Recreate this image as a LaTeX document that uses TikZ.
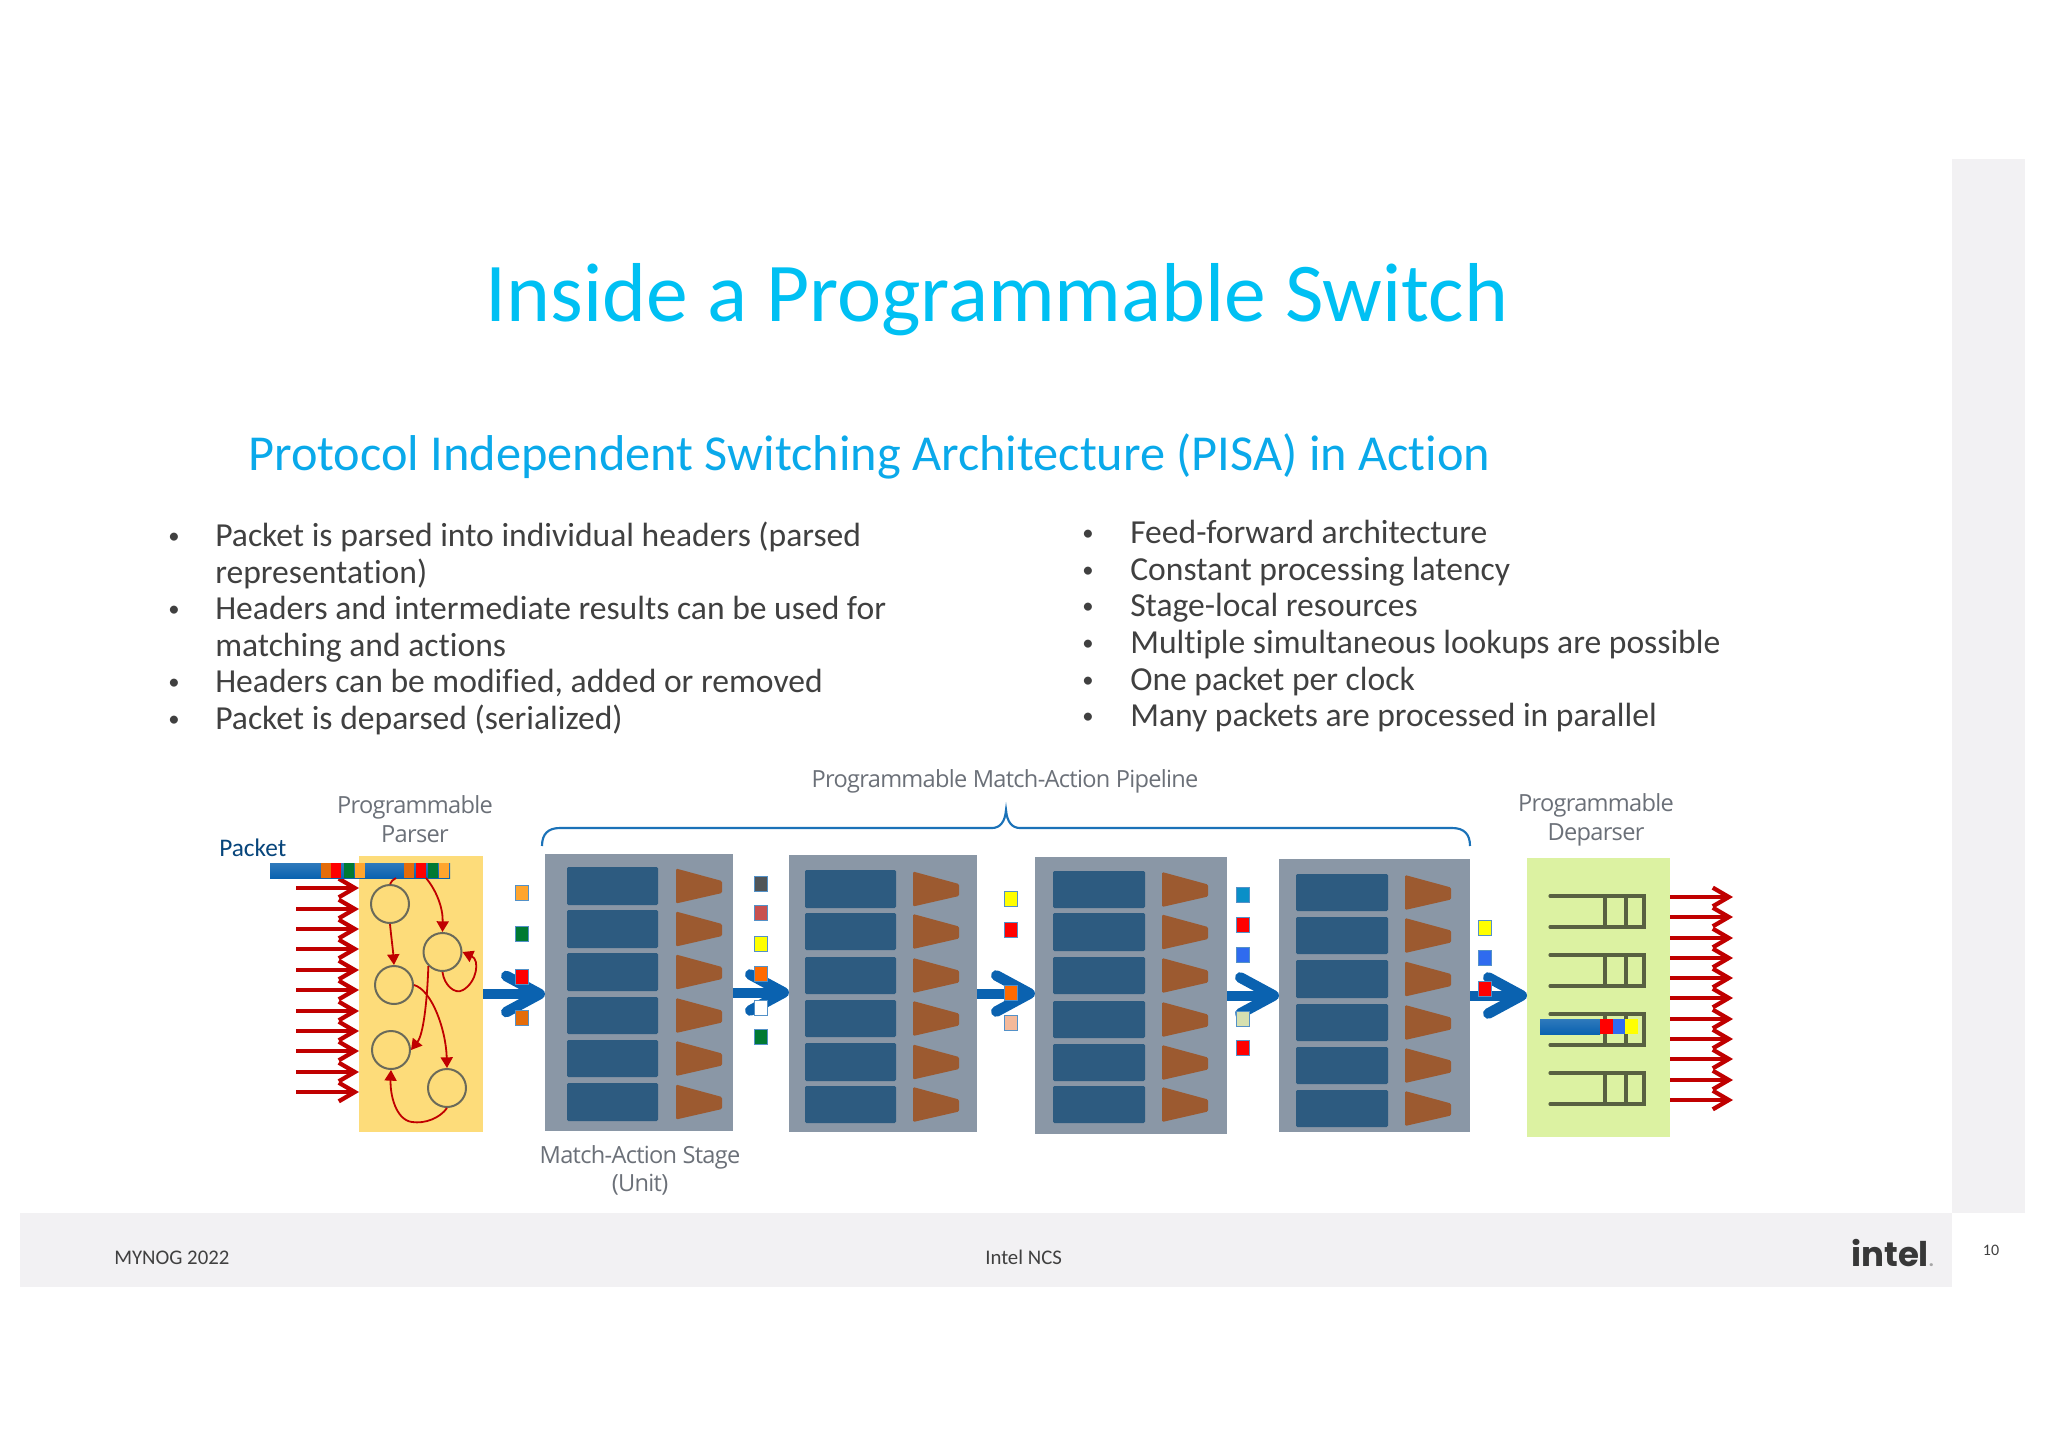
\documentclass[tikz,border=0pt]{standalone}
\usepackage{fontspec}
\setmainfont{Carlito}[Ligatures=NoCommon]
\newfontfamily\diagfont{Open Sans}[LetterSpace=-3]
\newfontfamily\logofont{Poppins}
\usetikzlibrary{arrows.meta}
\definecolor{titlec}{HTML}{00C0F3}
\definecolor{subc}{HTML}{0AA9EA}
\definecolor{bodyc}{HTML}{404040}
\definecolor{barc}{HTML}{F2F1F3}
\definecolor{parsec}{HTML}{FDDC7A}
\definecolor{deparsec}{HTML}{DCF2A2}
\definecolor{stagec}{HTML}{8A97A6}
\definecolor{blockc}{HTML}{2D5B80}
\definecolor{trapc}{HTML}{9C5A30}
\definecolor{bluec}{HTML}{0A62B0}
\definecolor{bracec}{HTML}{1B72B8}
\definecolor{redc}{HTML}{C00000}
\definecolor{labelc}{HTML}{6B7078}
\definecolor{statec}{HTML}{6A6A5A}
\definecolor{sqo}{HTML}{E46C0A}
\definecolor{sql}{HTML}{FFA52E}
\definecolor{sqg}{HTML}{007A33}
\definecolor{sqr}{HTML}{FF0000}
\definecolor{sqy}{HTML}{FFFF00}
\definecolor{sqb}{HTML}{2F6BEF}
\definecolor{sqt}{HTML}{0A8FC8}
\definecolor{sqgr}{HTML}{505558}
\definecolor{sqrs}{HTML}{C8504F}
\definecolor{sqp}{HTML}{F4B99A}
\definecolor{sqpg}{HTML}{D6E0B0}
\definecolor{sqdo}{HTML}{FF6A00}
\tikzset{
  title/.style={text=titlec,font=\fontsize{62.7}{62.7}\selectfont,anchor=base},
  sub/.style={text=subc,font=\fontsize{37.75}{37.75}\selectfont,anchor=base west},
  body/.style={text=bodyc,font=\fontsize{25.2}{25.2}\selectfont,anchor=base west,inner sep=0pt},
  bul/.style={text=bodyc,font=\fontsize{17}{17}\selectfont,anchor=base west,inner sep=0pt},
  foot/.style={text=bodyc,font=\fontsize{15.6}{15.6}\selectfont,anchor=base west,inner sep=0pt},
  diag/.style={text=labelc,font=\diagfont\fontsize{17.7}{17.7}\selectfont,inner sep=0pt,anchor=base},
  stage/.style={fill=stagec},
  block/.style={fill=blockc,rounded corners=1pt},
  trap/.style={fill=trapc,rounded corners=1pt},
  parsebox/.style={fill=parsec},
  deparsebox/.style={fill=deparsec},
  state/.style={circle,draw=statec,line width=1.5pt,fill=parsec,minimum size=28.5pt,inner sep=0pt},
  statearrow/.style={draw=redc,line width=1.35pt,-{Triangle[length=8pt,width=9pt]}},
  flow/.style={draw=redc,line width=3pt,-{Straight Barb[length=12pt,width=14pt,line width=3.2pt]}},
  pipe/.style={draw=bluec,line width=7.5pt,-{Straight Barb[length=25pt,width=27pt,line width=8pt,round]}},
  sq/.style={minimum width=9.5pt,minimum height=11pt,inner sep=0pt,outer sep=0pt,draw=bluec!70,line width=1pt},
  seg/.style={minimum width=7.5pt,minimum height=11pt,inner sep=0pt,outer sep=0pt},
  queue/.style={draw=black!60!deparsec,line width=2.3pt,line cap=round,line join=miter},
}
\newcommand{\boxnode}[6]{%
  \pgfmathsetmacro{\cxx}{(#2+#4)/2}\pgfmathsetmacro{\cyy}{(#3+#5)/2}%
  \pgfmathsetmacro{\ww}{(#4-#2)*0.75}\pgfmathsetmacro{\hh}{(#5-#3)*0.75}%
  \node[#6,minimum width=\ww pt,minimum height=\hh pt,inner sep=0pt,outer sep=0pt] (#1) at (\cxx,\cyy) {};}
% name, x1, y1, x2, y2, k/top/bottom list; uses \bxa \bxb \txa \txb
\newcommand{\stagebox}[6]{%
  \boxnode{#1}{#2}{#3}{#4}{#5}{stage}
  \foreach \k/\tp/\bt in {#6}{%
    \boxnode{#1b\k}{\bxa}{\tp}{\bxb}{\bt}{block}
    \pgfmathsetmacro{\myc}{(\tp+\bt)/2}
    \fill[trap] (\txa,\myc-17.5) -- (\txb,\myc-5) -- (\txb,\myc+7) -- (\txa,\myc+17.5) -- cycle;
  }}
\newcommand{\queueat}[2]{%
  \pgfmathsetmacro{\qb}{#2+31}
  \draw[queue] (#1,#2) -- (#1+94,#2) -- (#1+94,\qb) -- (#1,\qb);
  \draw[queue] (#1+55,#2) -- (#1+55,\qb);
  \draw[queue] (#1+76,#2) -- (#1+76,\qb);}
\begin{document}
\begin{tikzpicture}[x=0.75pt,y=-0.75pt]
\useasboundingbox (0,0) rectangle (2048,1448);
% page furniture
\boxnode{strip}{1952}{159}{2025}{1213}{fill=barc}
\boxnode{footbar}{20}{1213}{1952}{1287}{fill=barc}
% text
\node[title] (ttl) at (997,321) {Inside a Programmable Switch};
\node[sub,inner sep=0pt] (subt) at (248,470) {Protocol Independent Switching Architecture (PISA) in Action};
\foreach \n/\y/\mk/\s in {
 l1/546/1/Packet is parsed into individual headers (parsed,
 l2/583/0/representation),
 l3/619/1/Headers and intermediate results can be used for,
 l4/656/0/matching and actions,
 l5/692/1/{Headers can be modified, added or removed},
 l6/729/1/Packet is deparsed (serialized)}{
  \node[body] (\n) at (215,\y) {\s};
  \ifnum\mk=1 \node[bul] (\n m) at (168,\y-3) {•}; \fi
}
\foreach \n/\y/\s in {
 r1/543/Feed-forward architecture,
 r2/580/Constant processing latency,
 r3/616/Stage-local resources,
 r4/653/Multiple simultaneous lookups are possible,
 r5/690/One packet per clock,
 r6/726/Many packets are processed in parallel}{
  \node[body] (\n) at (1130,\y) {\s};
  \node[bul] (\n m) at (1082,\y-3) {•};
}
\node[foot] (f1) at (114,1264.5) {MYNOG 2022};
\node[foot] (f2) at (985,1264.5) {Intel NCS};
\node[text=bodyc,font=\fontsize{12}{12}\selectfont,inner sep=0pt] (f3) at (1991,1250) {10};
\node[text=black!78,font=\logofont\bfseries\fontsize{25.5}{25.5}\selectfont,inner sep=0pt,anchor=base west] (logo) at (1851,1266) {intel\textcolor{black!35}{\fontsize{12}{12}\selectfont.}};
% diagram labels
\node[diag] (lp1) at (415,813) {Programmable};
\node[diag] (lp2) at (415,842) {Parser};
\node[diag] (lm) at (1005,787) {Programmable Match-Action Pipeline};
\node[diag] (ld1) at (1596,811) {Programmable};
\node[diag] (ld2) at (1596,840) {Deparser};
\node[diag] (ls1) at (640,1163) {Match-Action Stage};
\node[diag] (ls2) at (640,1191) {(Unit)};
\node[text=bluec!70!black,font=\fontsize{19}{19}\selectfont,inner sep=0pt,anchor=base west] (pk) at (219,856) {Packet};
% brace
\coordinate (brl) at (542,846);
\coordinate (brr) at (1470,846);
\coordinate (brt) at (1006,810);
\draw[bracec,line width=1.6pt] (brl) .. controls (542,834) and (548,828) .. (560,828) -- (992,828) .. controls (1000,828) and (1005,822) .. (brt) .. controls (1007,822) and (1012,828) .. (1020,828) -- (1452,828) .. controls (1464,828) and (1470,834) .. (brr);
% parser and deparser panels
\boxnode{parser}{359}{856}{483}{1132}{parsebox}
\boxnode{deparser}{1527}{858}{1670}{1137}{deparsebox}
% stages
\def\bxa{567}\def\bxb{658}\def\txa{676}\def\txb{722}
\stagebox{s1}{545}{854}{733}{1131}{1/867/905,2/910/948,3/953/991,4/997/1034,5/1040/1077,6/1083/1121}
\def\bxa{805}\def\bxb{896}\def\txa{913}\def\txb{959}
\stagebox{s2}{789}{855}{977}{1132}{1/870/908,2/913/950,3/957/994,4/1000/1037,5/1043/1081,6/1086/1123}
\def\bxa{1053}\def\bxb{1145}\def\txa{1162}\def\txb{1208}
\stagebox{s3}{1035}{857}{1227}{1134}{1/871/908,2/913/951,3/957/994,4/1001/1038,5/1044/1081,6/1086/1123}
\def\bxa{1296}\def\bxb{1388}\def\txa{1405}\def\txb{1451}
\stagebox{s4}{1279}{859}{1470}{1132}{1/874/911,2/917/954,3/960/998,4/1004/1041,5/1047/1084,6/1090/1127}
% pipeline arrows
\draw[pipe] (parser.east) -- (parser.east -| s1.west);
\draw[pipe] (s1.east) -- (s1.east -| s2.west);
\draw[pipe] (s2.east) -- (s2.east -| s3.west);
\draw[pipe] (s3.east) -- (s3.east -| s4.west);
\draw[pipe] (s4.east) -- (s4.east -| deparser.west);
% small header squares
\foreach \n/\x/\y/\cc in {
 a1/522/893/sql,a2/522/934/sqg,a3/522/977/sqr,a4/522/1018/sqo,
 b1/761/884/sqgr,b2/761/913/sqrs,b3/761/944/sqy,b4/761/974/sqdo,b5/761/1008/white,b6/761/1037/sqg,
 c1/1011/899/sqy,c2/1011/930/sqr,c3/1011/993/sqdo,c4/1011/1023/sqp,
 d1/1243/895/sqt,d2/1243/925/sqr,d3/1243/955/sqb,d4/1243/1019/sqpg,d5/1243/1048/sqr,
 e1/1485/928/sqy,e2/1485/958/sqb,e3/1485/989/sqr}{
  \node[sq,fill=\cc] (\n) at (\x,\y) {};
}
% input and output flows
\foreach \i/\y in {1/888,2/909,3/929,4/949,5/970,6/990,7/1011,8/1031,9/1051,10/1072,11/1092}{
  \coordinate (in\i) at (296,\y);
  \draw[flow] (in\i) -- (in\i -| parser.west);
}
\foreach \i/\y in {1/897,2/917,3/938,4/958,5/978,6/998,7/1019,8/1039,9/1059,10/1080,11/1100}{
  \coordinate (out\i) at (1733,\y);
  \draw[flow] (out\i -| deparser.east) -- (out\i);
}
% parser states
\node[state] (p1) at (390,904) {};
\node[state] (p2) at (442.5,952) {};
\node[state] (p3) at (394,985) {};
\node[state] (p4) at (391,1050) {};
\node[state] (p5) at (447,1088) {};
% packet bar
\boxnode{pbar}{270}{863}{450}{878}{top color=bluec!85!white,bottom color=bluec}
\foreach \n/\x/\cc in {g1/325.5/sqo,g2/336/sqr,g3/348.5/sqg,g4/359.5/sql,g5/409/sqo,g6/421/sqr,g7/432.5/sqg,g8/444/sql}{
  \node[seg,fill=\cc] (\n) at (\x,870.5) {};
}
\coordinate (barA) at (396,878);
\coordinate (barB) at (426,878);
\draw[redc,line width=1.35pt] (barA) .. controls (393,880) and (391,881) .. (p1.north);
\draw[statearrow] (barB) .. controls (436,890) and (443,907) .. (p2.north);
\draw[statearrow] (p1.south) .. controls (391,935) and (393,950) .. (p3.north);
\draw[statearrow] (p2.south west) .. controls (427,1005) and (423,1035) .. (p4.east);
\draw[statearrow] (p3.east) .. controls (432,990) and (446,1030) .. (p5.north);
\draw[statearrow] (p2.south) .. controls (444,985) and (455,995) .. (463,990) .. controls (477,982) and (480,960) .. (p2.east);
\draw[statearrow] (p5.south) .. controls (440,1118) and (425,1124) .. (412,1122) .. controls (396,1120) and (390,1095) .. (p4.south);
% deparser queues
\queueat{1550}{896}
\queueat{1550}{955}
\queueat{1550}{1014}
\queueat{1550}{1073}
\boxnode{dbar}{1540}{1019}{1600}{1034}{top color=bluec!85!white,bottom color=bluec}
\boxnode{dr}{1600}{1019}{1612.5}{1034}{fill=sqr}
\boxnode{db}{1612.5}{1019}{1625}{1034}{fill=sqb}
\boxnode{dy}{1625}{1019}{1637.5}{1034}{fill=sqy}
\end{tikzpicture}
\end{document}
